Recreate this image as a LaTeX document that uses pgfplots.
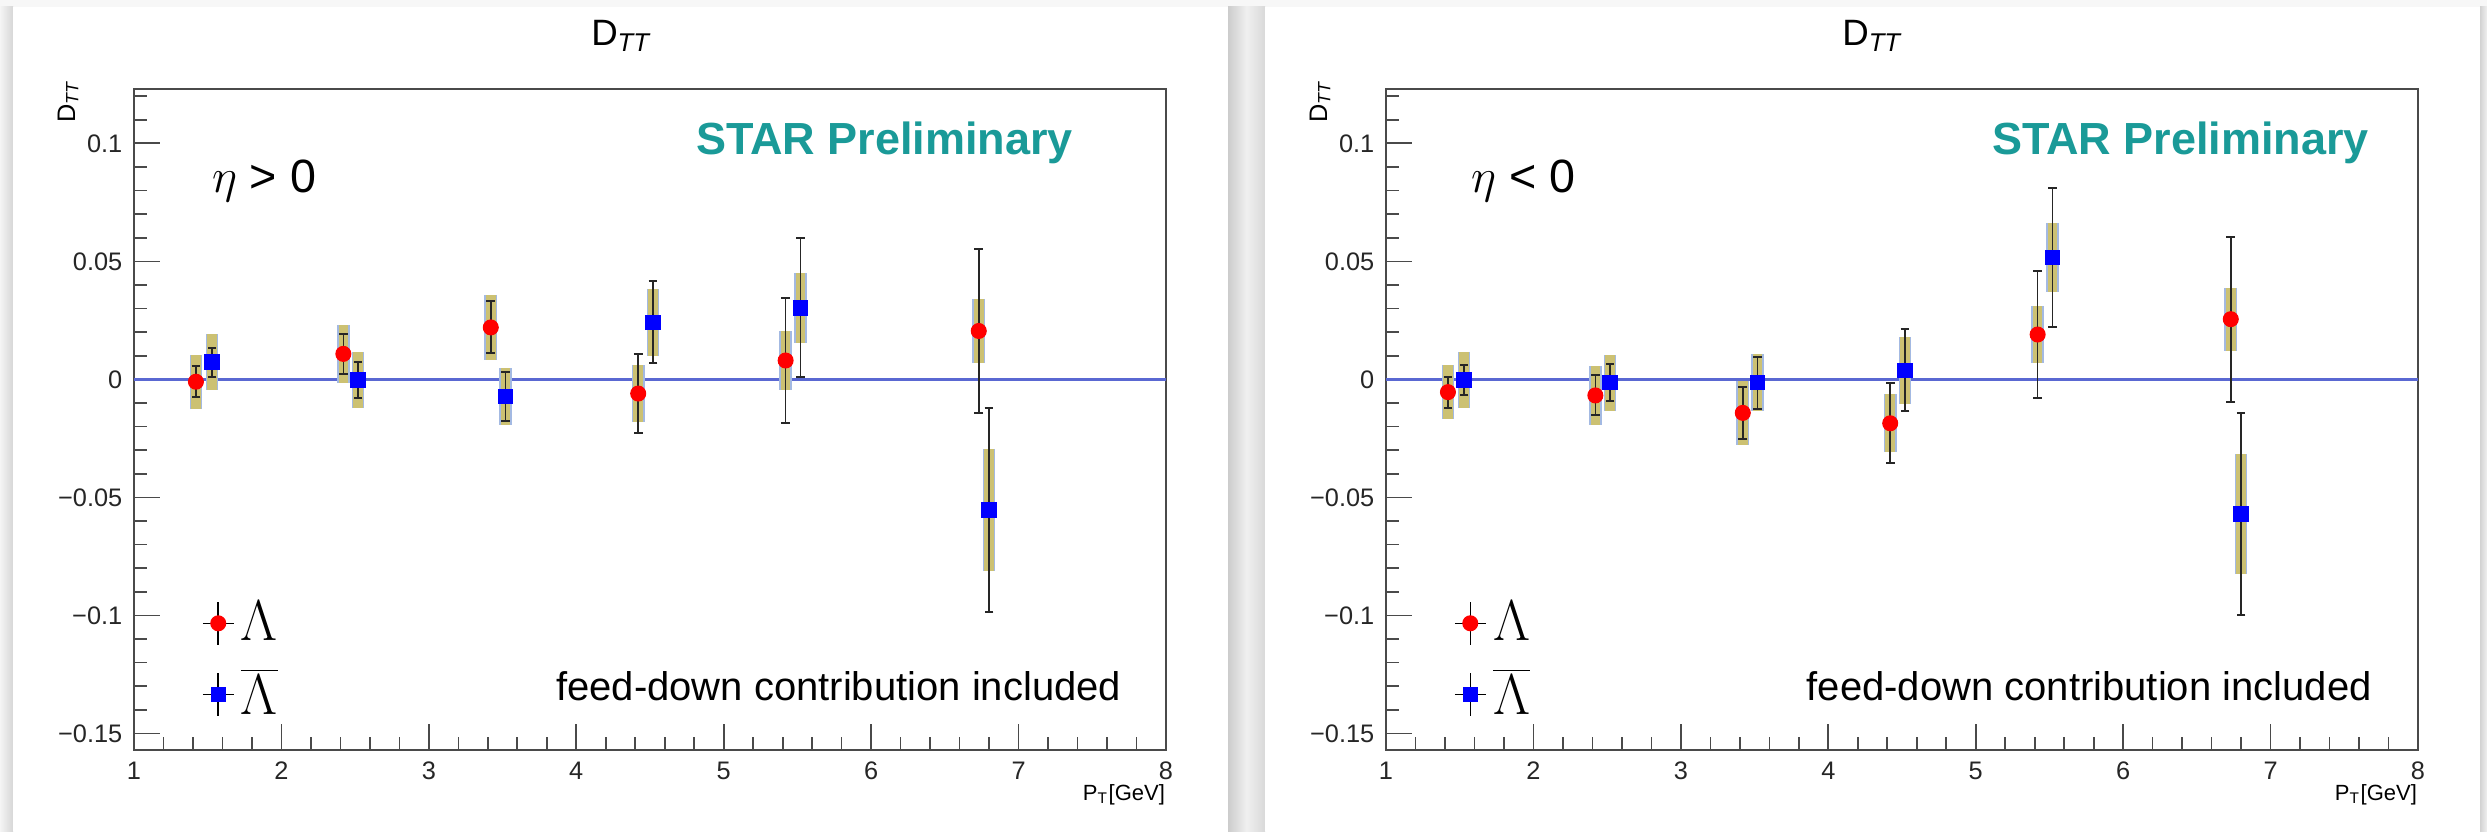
\documentclass[border=0pt]{standalone}
\usepackage{fontspec}
\setmainfont{Liberation Sans}
\usepackage{pgfplots}
\pgfplotsset{compat=1.18}
\usepackage{pgfplotstable}

\definecolor{starteal}{HTML}{1A9A98}
\definecolor{sysfill}{HTML}{CCC172}
\definecolor{sysedge}{HTML}{A3B9E2}
\definecolor{zeroblue}{HTML}{5A68D2}
\definecolor{framegray}{HTML}{4A4A4A}

% x  y  stat  sys
\pgfplotstableread{
x     y        stat    sys
1.42  -0.0010  0.0065  0.0115
2.42   0.0108  0.0085  0.0123
3.42   0.0220  0.0110  0.0137
4.42  -0.0060  0.0168  0.0120
5.42   0.0080  0.0265  0.0124
6.73   0.0205  0.0346  0.0135
}\lamPos
\pgfplotstableread{
x     y        stat    sys
1.53   0.0073  0.0062  0.0120
2.52  -0.0003  0.0076  0.0120
3.52  -0.0073  0.0105  0.0120
4.52   0.0242  0.0173  0.0142
5.52   0.0303  0.0295  0.0147
6.80  -0.0553  0.0432  0.0260
}\alamPos
\pgfplotstableread{
x     y        stat    sys
1.42  -0.0054  0.0066  0.0115
2.42  -0.0068  0.0085  0.0124
3.42  -0.0142  0.0110  0.0135
4.42  -0.0186  0.0169  0.0122
5.42   0.0190  0.0268  0.0122
6.73   0.0255  0.0349  0.0133
}\lamNeg
\pgfplotstableread{
x     y        stat    sys
1.53  -0.0003  0.0064  0.0120
2.52  -0.0014  0.0077  0.0118
3.52  -0.0014  0.0110  0.0122
4.52   0.0038  0.0174  0.0142
5.52   0.0516  0.0294  0.0145
6.80  -0.0570  0.0427  0.0255
}\alamNeg

\pgfplotsset{
  dttpanel/.style={
    at={(#1,24.3pt)}, anchor=south west, scale only axis,
    width=309.6pt, height=198.3pt,
    xmin=1, xmax=8, ymin=-0.157, ymax=0.123,
    xtick={1,2,3,4,5,6,7,8},
    xticklabels={1,2,3,4,5,6,7,8},
    minor x tick num=4,
    ytick={-0.15,-0.1,-0.05,0,0.05,0.1},
    yticklabels={−0.15,−0.1,−0.05,0,0.05,0.1},
    minor ytick={-0.14,-0.13,-0.12,-0.11,-0.09,-0.08,-0.07,-0.06,-0.04,-0.03,-0.02,-0.01,
                 0.01,0.02,0.03,0.04,0.06,0.07,0.08,0.09,0.11,0.12},
    tick align=inside, tick pos=left,
    major tick length=7.8pt, minor tick length=3.9pt,
    tick style={framegray, line width=0.5pt},
    axis line style={framegray, line width=0.6pt},
    ticklabel style={font=\fontsize{7.6}{8}\selectfont, text=black!85},
    legend style={draw=none, fill=none, anchor=north west,
      font=\fontsize{17}{17}\selectfont, row sep=3pt},
    legend cell align=left,
  },
  sysbox/.style 2 args={only marks, mark=none, forget plot,
    error bars/.cd, y dir=both, y explicit, error mark=none,
    error bar style={line width=#1, #2}},
  staterr/.style={only marks, mark=none, forget plot,
    error bars/.cd, y dir=both, y explicit, error mark=|,
    error bar style={line width=0.45pt, black!85},
    error mark options={black!85, mark size=1.3pt, line width=0.6pt}},
}

% boxes, stat bars and markers for one panel
\newcommand\drawseries[2]{%
  \addplot[zeroblue, line width=0.8pt, forget plot] coordinates {(1,0) (8,0)};
  \addplot[sysbox={3.8pt}{sysedge}] table[x=x,y=y,y error=sys]{#1};
  \addplot[sysbox={3.8pt}{sysedge}] table[x=x,y=y,y error=sys]{#2};
  \addplot[sysbox={2.9pt}{sysfill}] table[x=x,y=y,y error=sys]{#1};
  \addplot[sysbox={2.9pt}{sysfill}] table[x=x,y=y,y error=sys]{#2};
  \addplot[staterr] table[x=x,y=y,y error=stat]{#1};
  \addplot[staterr] table[x=x,y=y,y error=stat]{#2};
  \addplot[only marks, mark=*, mark size=2.2pt, red, mark options={fill=red, draw=red}, forget plot]
    table[x=x,y=y]{#1};
  \addplot[only marks, mark=square*, mark size=2.1pt, blue, mark options={fill=blue, draw=blue}, forget plot]
    table[x=x,y=y]{#2};
  \addlegendimage{legend image code/.code={
      \draw[black, line width=0.45pt] (4.6pt,-6.5pt) -- (4.6pt,6.5pt) (0pt,0pt) -- (9.2pt,0pt);
      \fill[red] (4.6pt,0pt) circle (2.2pt);}}
  \addlegendentry{$\Lambda$}
  \addlegendimage{legend image code/.code={
      \draw[black, line width=0.45pt] (4.6pt,-6.5pt) -- (4.6pt,6.5pt) (0pt,0pt) -- (9.2pt,0pt);
      \fill[blue] (2.5pt,-2.1pt) rectangle (6.7pt,2.1pt);}}
  \addlegendentry{$\overline{\Lambda}$}
}

\begin{document}
\begin{tikzpicture}
\useasboundingbox (0,0) rectangle (746.1pt,249.3pt);

% --- canvas cards with their shadows ---
\fill[gray!6] (0,0) rectangle (746.1pt,249.3pt);
\shade[left color=gray!8, right color=gray!32] (0,0) rectangle (3.9pt,247.2pt);
\shade[left color=gray!40, right color=gray!30, middle color=gray!12] (368.4pt,0) rectangle (379.5pt,247.2pt);
\shade[left color=gray!35, right color=gray!12] (744pt,0) rectangle (746.1pt,247.2pt);
\fill[white] (3.9pt,0) rectangle (368.4pt,247.2pt);
\fill[white] (379.5pt,0) rectangle (744pt,247.2pt);

% --- eta > 0 ---
\begin{axis}[dttpanel=40.2pt, legend style={at={(axis cs:1.39,-0.088)}}]
  \drawseries{\lamPos}{\alamPos}
  \node[font=\fontsize{13.5}{14}\selectfont\bfseries, text=starteal] at (axis cs:6.09,0.1) {STAR Preliminary};
  \node[anchor=west, font=\fontsize{14}{14}\selectfont] at (axis cs:1.45,0.084) {$\eta$ > 0};
  \node[font=\fontsize{12}{12}\selectfont] at (axis cs:5.78,-0.1298) {feed-down contribution included};
\end{axis}
\node[font=\fontsize{11}{12}\selectfont] at (186.3pt,238.5pt) {D\textsubscript{\itshape TT}};
\node[rotate=90, anchor=east, font=\fontsize{7.6}{8}\selectfont] at (20.4pt,228.5pt) {D\textsubscript{\itshape TT}};
\node[anchor=east, font=\fontsize{6.6}{7}\selectfont] at (353pt,11pt) {P\textsubscript{T}[GeV]};

% --- eta < 0 ---
\begin{axis}[dttpanel=415.8pt, legend style={at={(axis cs:1.39,-0.088)}}]
  \drawseries{\lamNeg}{\alamNeg}
  \node[font=\fontsize{13.5}{14}\selectfont\bfseries, text=starteal] at (axis cs:6.39,0.1) {STAR Preliminary};
  \node[anchor=west, font=\fontsize{14}{14}\selectfont] at (axis cs:1.5,0.084) {$\eta$ < 0};
  \node[font=\fontsize{12}{12}\selectfont] at (axis cs:5.77,-0.1298) {feed-down contribution included};
\end{axis}
\node[font=\fontsize{11}{12}\selectfont] at (561.6pt,238.5pt) {D\textsubscript{\itshape TT}};
\node[rotate=90, anchor=east, font=\fontsize{7.6}{8}\selectfont] at (396pt,228.5pt) {D\textsubscript{\itshape TT}};
\node[anchor=east, font=\fontsize{6.6}{7}\selectfont] at (728.6pt,11pt) {P\textsubscript{T}[GeV]};
\end{tikzpicture}
\end{document}
